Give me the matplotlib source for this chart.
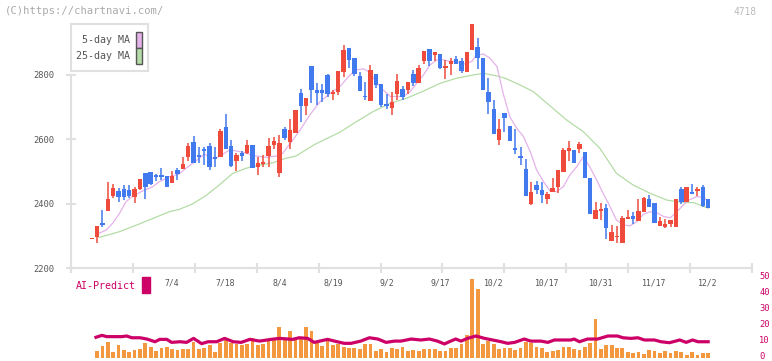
import numpy as np
import matplotlib
matplotlib.use("Agg")
import matplotlib.pyplot as plt
from matplotlib.patches import Rectangle
from matplotlib import transforms

# ---------------- data ----------------
opens = [2289, 2295, 2341, 2378, 2425, 2438, 2445, 2442, 2422, 2445,
         2494, 2497, 2489, 2489, 2486, 2465, 2505, 2509, 2546, 2592,
         2551, 2571, 2579, 2546, 2546, 2638, 2579, 2534, 2556, 2556,
         2582, 2513, 2524, 2548, 2582, 2494, 2631, 2593, 2621, 2743,
         2705, 2828, 2753, 2753, 2800, 2741, 2746, 2810, 2884, 2854,
         2798, 2735, 2719, 2802, 2772, 2711, 2698, 2741, 2756, 2753,
         2802, 2776, 2844, 2881, 2862, 2865, 2823, 2833, 2850, 2844,
         2810, 2876, 2887, 2854, 2746, 2694, 2598, 2682, 2642, 2573,
         2548, 2508, 2399, 2458, 2442, 2413, 2437, 2453, 2497, 2565,
         2568, 2569, 2561, 2481, 2352, 2378, 2387, 2285, 2295, 2279,
         2352, 2362, 2347, 2375, 2413, 2401, 2331, 2326, 2337, 2328,
         2446, 2406, 2435, 2440, 2452, 2414]
highs = [2291, 2331, 2380, 2468, 2461, 2448, 2458, 2458, 2453, 2477,
         2494, 2497, 2492, 2511, 2486, 2502, 2511, 2546, 2588, 2610,
         2577, 2577, 2590, 2577, 2631, 2679, 2598, 2556, 2563, 2598,
         2582, 2546, 2551, 2605, 2606, 2613, 2637, 2664, 2691, 2756,
         2728, 2828, 2774, 2772, 2802, 2753, 2812, 2893, 2884, 2854,
         2810, 2779, 2831, 2802, 2772, 2741, 2746, 2803, 2766, 2777,
         2816, 2831, 2875, 2881, 2870, 2865, 2847, 2854, 2859, 2854,
         2871, 2959, 2916, 2854, 2792, 2722, 2663, 2682, 2642, 2631,
         2575, 2539, 2468, 2471, 2468, 2437, 2481, 2505, 2572, 2595,
         2568, 2592, 2561, 2481, 2405, 2402, 2399, 2334, 2331, 2362,
         2380, 2375, 2414, 2422, 2427, 2401, 2357, 2352, 2349, 2414,
         2451, 2453, 2461, 2453, 2457, 2414]
lows = [2289, 2279, 2327, 2378, 2417, 2406, 2411, 2417, 2401, 2443,
        2414, 2459, 2470, 2474, 2453, 2463, 2474, 2509, 2534, 2527,
        2527, 2519, 2505, 2513, 2546, 2569, 2513, 2502, 2532, 2553,
        2512, 2489, 2513, 2513, 2570, 2482, 2598, 2569, 2619, 2655,
        2676, 2712, 2707, 2715, 2733, 2722, 2738, 2794, 2823, 2796,
        2751, 2722, 2719, 2758, 2701, 2694, 2674, 2722, 2722, 2741,
        2767, 2776, 2833, 2829, 2842, 2819, 2788, 2800, 2834, 2807,
        2810, 2876, 2819, 2753, 2678, 2615, 2582, 2622, 2596, 2554,
        2520, 2425, 2396, 2430, 2403, 2399, 2437, 2432, 2497, 2534,
        2527, 2558, 2481, 2368, 2352, 2349, 2289, 2285, 2279, 2279,
        2352, 2336, 2347, 2375, 2391, 2341, 2331, 2323, 2326, 2328,
        2398, 2406, 2430, 2425, 2391, 2387]
closes = [2291, 2331, 2335, 2414, 2449, 2422, 2422, 2425, 2445, 2477,
          2453, 2461, 2484, 2483, 2453, 2486, 2492, 2523, 2579, 2527,
          2544, 2565, 2515, 2538, 2627, 2571, 2517, 2552, 2548, 2582,
          2512, 2525, 2530, 2579, 2595, 2588, 2603, 2629, 2691, 2705,
          2728, 2753, 2745, 2745, 2741, 2746, 2812, 2877, 2847, 2804,
          2751, 2730, 2816, 2769, 2707, 2702, 2715, 2781, 2733, 2777,
          2774, 2823, 2875, 2842, 2870, 2821, 2826, 2842, 2834, 2811,
          2871, 2959, 2852, 2753, 2717, 2615, 2632, 2665, 2596, 2567,
          2543, 2425, 2435, 2442, 2427, 2430, 2449, 2505, 2567, 2573,
          2527, 2585, 2481, 2368, 2380, 2380, 2325, 2313, 2299, 2354,
          2359, 2352, 2377, 2419, 2391, 2341, 2345, 2337, 2349, 2414,
          2406, 2453, 2430, 2442, 2394, 2387]

ma5_x = [1.1, 2.7, 3.9, 5.2, 6.4, 7.6, 9.2, 11.4, 12.6, 14.5, 16.3, 17.6, 18.8,
         20.1, 21.0, 22.6, 23.8, 25.7, 27.6, 29.4, 30.7, 32.5, 34.4, 35.6, 36.9,
         38.9, 40.7, 42.6, 44.5, 46.3, 48.2, 49.4, 50.7, 51.9, 53.2, 54.4, 55.7,
         56.9, 58.1, 59.4, 60.6, 61.9, 63.1, 64.4, 65.6, 66.8, 68.1, 69.3, 70.9,
         71.8, 73.1, 74.3, 75.6, 76.8, 78.0, 79.3, 80.5, 81.8, 83.0, 84.3, 85.5,
         86.7, 88.0, 89.2, 90.5, 91.7, 92.9, 94.2, 95.4, 96.7, 97.9, 99.2, 100.4,
         101.7, 102.9, 104.2, 105.4, 106.7, 107.9, 108.9, 110.1, 111.4, 112.9,
         114.2, 115.0]
ma5_v = [2306, 2318, 2339, 2370, 2406, 2422, 2437, 2453, 2468, 2484, 2492, 2510,
         2525, 2541, 2554, 2541, 2546, 2567, 2562, 2554, 2548, 2544, 2548, 2556,
         2584, 2629, 2676, 2717, 2743, 2764, 2800, 2816, 2819, 2808, 2774, 2753,
         2733, 2733, 2733, 2748, 2774, 2800, 2831, 2847, 2847, 2842, 2842, 2833,
         2842, 2862, 2865, 2852, 2826, 2740, 2670, 2634, 2610, 2562, 2505, 2468,
         2439, 2437, 2453, 2489, 2515, 2546, 2515, 2474, 2432, 2391, 2349, 2334,
         2331, 2344, 2367, 2375, 2372, 2360, 2356, 2370, 2391, 2411, 2422, 2420,
         2406]

ma25_x = [1.4, 5.2, 8.9, 11.4, 14.5, 16.3, 18.8, 21.3, 23.8, 26.3, 28.8, 31.3,
          33.8, 36.2, 38.1, 41.7, 46.3, 49.4, 52.5, 55.7, 58.8, 61.9, 65.0, 68.1,
          71.2, 73.1, 75.6, 77.1, 79.9, 82.4, 85.5, 88.6, 91.7, 94.8, 97.9,
          101.0, 104.2, 107.3, 110.4, 112.3, 115.0]
ma25_v = [2295, 2313, 2337, 2354, 2375, 2382, 2399, 2425, 2458, 2494, 2510, 2520,
          2527, 2541, 2548, 2585, 2622, 2655, 2686, 2712, 2728, 2750, 2774, 2790,
          2800, 2805, 2797, 2790, 2769, 2748, 2704, 2660, 2624, 2572, 2494,
          2458, 2432, 2411, 2404, 2403, 2386]

ai_bars = [4.4, 7.5, 10, 3.8, 8.2, 5, 3.8, 5, 5.6, 9.4, 6.9, 4.4, 6.3, 6.9, 5.6,
           5, 5.6, 5.6, 10, 5.6, 6.3, 8.2, 3.8, 9.4, 11.3, 9.4, 8.8, 8.2, 8.8,
           12.6, 8.2, 8.8, 11.3, 11.9, 19.4, 11.3, 16.9, 12.6, 13, 19.4, 16.9,
           10.6, 7.5, 10.6, 8.2, 8.8, 6.9, 6.3, 6.3, 5.6, 8.8, 8.8, 4.4, 5.6,
           3.8, 6.3, 5.6, 6.9, 4.4, 5, 4.4, 5.6, 5.6, 5.6, 4.4, 4.4, 6.3, 6.3,
           8.8, 14.4, 49.6, 43.3, 8.8, 10.6, 8.8, 5.6, 6.3, 6.3, 5, 6.3, 10,
           9.4, 6.9, 6.3, 3.8, 4.4, 5, 6.9, 6.9, 5.6, 5, 6.9, 9.4, 24.5, 5.6,
           8.2, 8.2, 6.3, 6.3, 3.8, 3.1, 3.8, 2.5, 5, 4.4, 3.1, 4.4, 3.1, 4.4,
           3.8, 1.9, 3.8, 1.9, 3.1, 3.1]

ai_x = [0.8, 1.9, 2.8, 5.6, 6.5, 7.5, 9.0, 10.3, 11.8, 12.7, 14.0, 14.9, 16.5,
        17.7, 19.0, 20.5, 21.7, 23.3, 24.8, 26.4, 27.9, 29.5, 31.3, 33.5, 35.0,
        37.5, 38.7, 40.3, 41.5, 44.0, 45.3, 47.1, 48.4, 50.2, 51.8, 53.4, 54.9,
        56.5, 57.7, 59.6, 61.4, 63.0, 64.5, 65.8, 66.7, 67.9, 68.9, 70.1, 71.7,
        73.3, 74.8, 76.4, 77.6, 78.9, 80.7, 81.9, 83.8, 85.1, 86.3, 89.4, 90.0,
        91.0, 92.5, 94.4, 96.3, 98.1, 99.1, 100.6, 101.9, 103.1, 105.0, 106.2,
        107.8, 109.7, 110.9, 112.1, 113.1, 115.0]
ai_v = [13, 14.2, 13.4, 13.4, 13.8, 12.7, 12.7, 11.9, 10.2, 11.7, 11.7, 9.8, 10.2,
        9.8, 12.3, 9.0, 10.2, 10.2, 12.3, 10.2, 9.8, 11.7, 10.6, 11.7, 12.3,
        11.7, 12.7, 12.3, 9.8, 11.7, 10.6, 9.2, 9.2, 10.6, 12.7, 11.9, 9.8,
        10.6, 10.6, 11.9, 11.3, 11.9, 10.6, 8.8, 10.2, 11.9, 10.6, 12.3, 13.8,
        12.3, 11.3, 10.2, 9.2, 9.8, 11.9, 10.6, 10.6, 9.8, 11.3, 11.3, 11.9,
        10.2, 11.9, 11.9, 13.8, 13.8, 12.7, 12.3, 12.7, 11.3, 11.3, 10.2,
        9.6, 11.3, 9.8, 11.3, 10.2, 10.2]

price_ticks = [2200, 2400, 2600, 2800]
ai_ticks = [0, 10, 20, 30, 40, 50]
date_labels = ['7/4', '7/18', '8/4', '8/19', '9/2', '9/17', '10/2', '10/17',
               '10/31', '11/17', '12/2']
date_index = [15, 25, 35, 45, 55, 65, 75, 85, 95, 105, 115]
legend_labels = ['5-day MA', '25-day MA']

# ---------------- style ----------------
W, H = 772, 361
RED = '#EF4B3D'
BLUE = '#4179EF'
PINK = '#E5B2EA'
GREEN = '#B4DCA6'
ORANGE = '#F3983F'
CRIMSON = '#CC0066'
AXC = '#E0E0E0'
TXT = '#555555'
MONO = ['DejaVu Sans Mono']

def fx(px):
    return px / W

def fy(py):
    return 1 - py / H

fig = plt.figure(figsize=(W / 100, H / 100), dpi=100)

xl0, xl1 = -3.92, 123.24

# main price axes
ax = fig.add_axes([fx(70.7), fy(268), fx(752.3) - fx(70.7), fy(10.6) - fy(268)])
ax.set_xlim(xl0, xl1)
ax.set_ylim(2200, 3000)
for s in ['top', 'right']:
    ax.spines[s].set_visible(False)
for s in ['left', 'bottom']:
    ax.spines[s].set_color(AXC)
    ax.spines[s].set_linewidth(1.5)
ax.spines['left'].set_bounds(2200, 2800)
ax.set_yticks(price_ticks)
ax.set_yticklabels([str(v) for v in price_ticks], family=MONO, fontsize=6.3, color=TXT)
ax.set_xticks(np.linspace(xl0, xl1, 12))
ax.set_xticklabels([])
ax.tick_params(axis='both', direction='inout', length=7, width=1.5, color=AXC)
ax.tick_params(axis='y', pad=8)
ax.patch.set_alpha(0)

n = len(opens)
idx = np.arange(n)
o = np.array(opens, float)
c = np.array(closes, float)
h = np.array(highs, float)
l = np.array(lows, float)
up = c >= o
cols = np.where(up, RED, BLUE)
body_lo = np.minimum(o, c)
body_h = np.maximum(np.abs(c - o), 4.5)

# MA lines
ax.plot(ma25_x, ma25_v, color=GREEN, lw=0.9, zorder=2)
ax.plot(ma5_x, ma5_v, color=PINK, lw=0.9, zorder=2)

ax.vlines(idx, l, h, colors=cols, lw=1.1, zorder=3)
ax.bar(idx, body_h, bottom=body_lo, width=0.82, color=cols, zorder=4, linewidth=0)

# lower AI-Predict axes
ax2 = fig.add_axes([fx(70.7), fy(358), fx(752.3) - fx(70.7), fy(278.3) - fy(358)])
ax2.set_xlim(xl0, xl1)
ax2.set_ylim(0, 50)
for s in ax2.spines.values():
    s.set_visible(False)
ax2.set_xticks([])
ax2.yaxis.tick_right()
ax2.set_yticks(ai_ticks)
ax2.set_yticklabels([str(v) for v in ai_ticks], family=MONO, fontsize=6.3, color=CRIMSON)
ax2.tick_params(axis='y', length=0, pad=5)
ax2.patch.set_alpha(0)
shift = transforms.ScaledTranslation(0, 2.5 / 100, fig.dpi_scale_trans)
for lbl in ax2.get_yticklabels():
    lbl.set_transform(lbl.get_transform() + shift)

bar_idx = np.arange(1, 1 + len(ai_bars))
ax2.bar(bar_idx, ai_bars, width=0.7, color=ORANGE, linewidth=0, zorder=2)
ax2.plot(ai_x, ai_v, color=CRIMSON, lw=2.3, zorder=3)

tr = transforms.blended_transform_factory(ax2.transData, fig.transFigure)
for lab, pos in zip(date_labels, date_index):
    ax2.text(pos, fy(283), lab, transform=tr, ha='center', va='center',
             family=MONO, fontsize=5.9, color=TXT)

fig.text(fx(76), fy(286), 'AI-Predict', ha='left', va='center', family=MONO,
         fontsize=7.2, color=CRIMSON)
fig.patches.append(Rectangle((fx(142), fy(293)), fx(7.5), fy(0) - fy(16),
                             transform=fig.transFigure, color=CRIMSON))

# header texts
fig.text(fx(5), fy(11), '(C)https://chartnavi.com/', ha='left', va='center',
         family=MONO, fontsize=7.6, color='#AAAAAA')
fig.text(fx(757), fy(12), '4718', ha='right', va='center', family=MONO,
         fontsize=6.9, color='#BBBBBB')

# legend box
fig.patches.append(Rectangle((fx(70.7), fy(71)), fx(148.3 - 70.7), fy(0) - fy(71 - 24.3),
                             transform=fig.transFigure, facecolor='white',
                             edgecolor=AXC, linewidth=1.5, zorder=10))
for lab, col, yc in zip(legend_labels, [PINK, GREEN], [40, 56]):
    fig.text(fx(129.5), fy(yc), lab, ha='right', va='center', family=MONO,
             fontsize=7.2, color=TXT, zorder=11)
    fig.patches.append(Rectangle((fx(136.3), fy(yc + 7.5)), fx(6), fy(0) - fy(15),
                                 transform=fig.transFigure, facecolor=col,
                                 edgecolor='#555555', linewidth=1.0, zorder=11))

fig.savefig('out.png', dpi=100)
